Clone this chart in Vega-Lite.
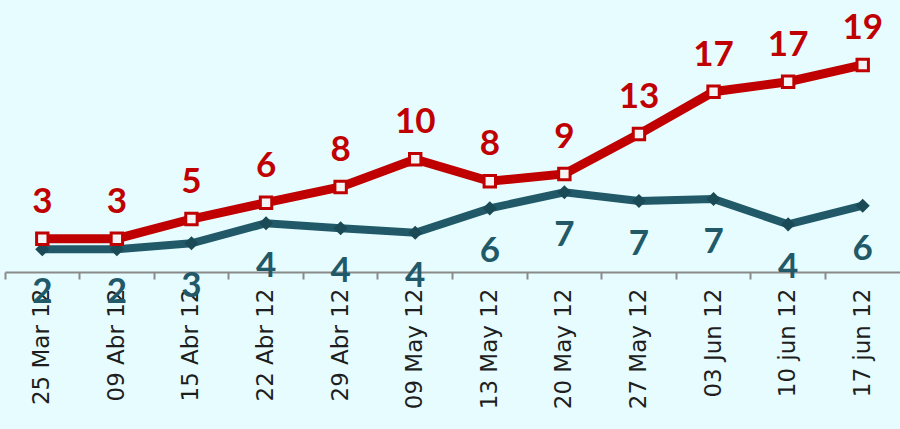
{
  "$schema": "https://vega.github.io/schema/vega-lite/v6.json",
  "autosize": "none",
  "width": 895,
  "height": 272,
  "padding": {"left": 5, "right": 0, "top": 0, "bottom": 157},
  "background": "#E6FCFE",
  "config": {"view": {"stroke": null}},
  "data": {
    "values": [
      {"fecha": "25 Mar 12", "serie": "rojo", "valor": 3.06},
      {"fecha": "09 Abr 12", "serie": "rojo", "valor": 3.06},
      {"fecha": "15 Abr 12", "serie": "rojo", "valor": 4.87},
      {"fecha": "22 Abr 12", "serie": "rojo", "valor": 6.37},
      {"fecha": "29 Abr 12", "serie": "rojo", "valor": 7.81},
      {"fecha": "09 May 12", "serie": "rojo", "valor": 10.36},
      {"fecha": "13 May 12", "serie": "rojo", "valor": 8.34},
      {"fecha": "20 May 12", "serie": "rojo", "valor": 9.01},
      {"fecha": "27 May 12", "serie": "rojo", "valor": 12.68},
      {"fecha": "03 Jun 12", "serie": "rojo", "valor": 16.57},
      {"fecha": "10 jun 12", "serie": "rojo", "valor": 17.49},
      {"fecha": "17 jun 12", "serie": "rojo", "valor": 19.03},
      {"fecha": "25 Mar 12", "serie": "azul", "valor": 2.09},
      {"fecha": "09 Abr 12", "serie": "azul", "valor": 2.09},
      {"fecha": "15 Abr 12", "serie": "azul", "valor": 2.64},
      {"fecha": "22 Abr 12", "serie": "azul", "valor": 4.48},
      {"fecha": "29 Abr 12", "serie": "azul", "valor": 4.02},
      {"fecha": "09 May 12", "serie": "azul", "valor": 3.61},
      {"fecha": "13 May 12", "serie": "azul", "valor": 5.85},
      {"fecha": "20 May 12", "serie": "azul", "valor": 7.33},
      {"fecha": "27 May 12", "serie": "azul", "valor": 6.53},
      {"fecha": "03 Jun 12", "serie": "azul", "valor": 6.71},
      {"fecha": "10 jun 12", "serie": "azul", "valor": 4.38},
      {"fecha": "17 jun 12", "serie": "azul", "valor": 6.09}
    ]
  },
  "encoding": {
    "x": {
      "field": "fecha",
      "type": "ordinal",
      "sort": null,
      "bandPosition": 0.5,
      "scale": {"type": "band", "paddingInner": 0, "paddingOuter": 0},
      "axis": {
        "title": null,
        "bandPosition": 0,
        "domainColor": "#8A8A8A",
        "domainWidth": 2,
        "tickColor": "#8A8A8A",
        "tickWidth": 2,
        "tickSize": 7,
        "labelAngle": -90,
        "labelAlign": "right",
        "labelBaseline": "middle",
        "labelPadding": 9,
        "labelFont": "DejaVu Sans",
        "labelFontSize": 23,
        "labelColor": "#1E1E1E",
        "labelOverlap": false
      }
    },
    "y": {
      "field": "valor",
      "type": "quantitative",
      "scale": {"domain": [0, 25], "nice": false, "zero": true},
      "axis": null
    }
  },
  "layer": [
    {
      "transform": [{"filter": "datum.serie === 'azul'"}],
      "mark": {"type": "line", "color": "#215968", "strokeWidth": 8}
    },
    {
      "transform": [{"filter": "datum.serie === 'azul'"}],
      "mark": {"type": "point", "shape": "diamond", "filled": true, "color": "#1B4A57", "size": 200, "opacity": 1}
    },
    {
      "transform": [{"filter": "datum.serie === 'rojo'"}],
      "mark": {"type": "line", "color": "#C00000", "strokeWidth": 9}
    },
    {
      "transform": [{"filter": "datum.serie === 'rojo'"}],
      "mark": {"type": "point", "shape": "square", "filled": true, "fill": "#F4F4F4", "stroke": "#C00000", "strokeWidth": 3, "size": 130, "opacity": 1}
    },
    {
      "transform": [{"filter": "datum.serie === 'rojo'"}],
      "mark": {"type": "text", "dy": -37, "fontSize": 35, "fontWeight": "bold", "font": "Lato", "color": "#C00000", "baseline": "middle"},
      "encoding": {"text": {"field": "valor", "type": "quantitative", "format": ".0f"}}
    },
    {
      "transform": [{"filter": "datum.serie === 'azul'"}],
      "mark": {"type": "text", "dy": 43, "fontSize": 35, "fontWeight": "bold", "font": "Lato", "color": "#215968", "baseline": "middle"},
      "encoding": {"text": {"field": "valor", "type": "quantitative", "format": ".0f"}}
    }
  ]
}
